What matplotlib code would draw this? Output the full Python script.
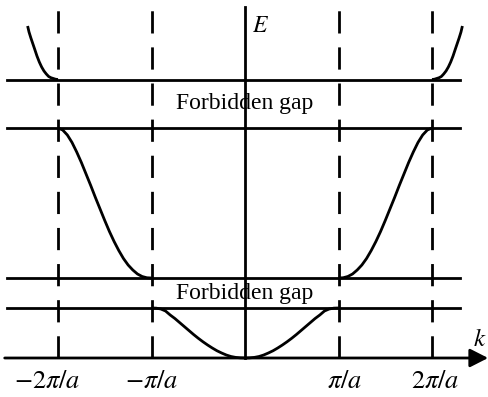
import numpy as np
import matplotlib
matplotlib.use("Agg")
import matplotlib.pyplot as plt
from matplotlib.patches import ArrowStyle

plt.rcParams["font.family"] = ["Liberation Serif", "DejaVu Serif"]
plt.rcParams["mathtext.fontset"] = "stix"

# k in units of pi/a, E in arbitrary units
band1_k = [0.0, 0.05, 0.1, 0.15, 0.2, 0.25, 0.3, 0.35, 0.4, 0.45, 0.5,
           0.55, 0.6, 0.65, 0.7, 0.75, 0.8, 0.85, 0.9, 0.95, 1.0]
band1_E = [0.0, 0.003, 0.012, 0.03, 0.06, 0.1, 0.145, 0.2, 0.26, 0.325, 0.395,
           0.47, 0.55, 0.63, 0.71, 0.79, 0.86, 0.94, 0.98, 0.997, 1.0]

band2_k = [1.0, 1.05, 1.1, 1.15, 1.2, 1.25, 1.3, 1.35, 1.4, 1.45, 1.5,
           1.55, 1.6, 1.65, 1.7, 1.75, 1.8, 1.85, 1.9, 1.95, 2.0]
band2_E = [1.6, 1.605, 1.63, 1.68, 1.76, 1.86, 1.99, 2.15, 2.33, 2.53, 2.75,
           2.98, 3.21, 3.45, 3.68, 3.91, 4.12, 4.31, 4.46, 4.56, 4.6]

band3_k = [2.0, 2.025, 2.05, 2.075, 2.1, 2.125, 2.15, 2.175, 2.2, 2.225,
           2.25, 2.27, 2.29, 2.31, 2.325]
band3_E = [5.57, 5.575, 5.59, 5.605, 5.63, 5.68, 5.74, 5.82, 5.92, 6.04,
           6.18, 6.29, 6.40, 6.52, 6.64]

edge_levels = [1.0, 1.6, 4.6, 5.57]     # band edges (horizontal lines)
gap_centers = [1.3, 5.085]              # where "Forbidden gap" is written
zone_k = [-2, -1, 1, 2]                 # dashed zone boundaries
zone_labels = [r"$-2\pi/a$", r"$-\pi/a$", r"$\pi/a$", r"$2\pi/a$"]

fig = plt.figure(figsize=(4.88, 3.97), dpi=100)
ax = fig.add_axes([0, 0, 1, 1])
ax.set_xlim(-245 / 93.5, 243 / 93.5)
ax.set_ylim(-39 / 50, 358 / 50)
ax.axis("off")

lw = 2.0
E_top = 7.02

# band curves, mirrored to negative k
for ks, Es in [(band1_k, band1_E), (band2_k, band2_E), (band3_k, band3_E)]:
    ks = np.array(ks)
    ax.plot(ks, Es, color="k", lw=lw, solid_capstyle="butt")
    ax.plot(-ks, Es, color="k", lw=lw, solid_capstyle="butt")

# band edges
for lev in edge_levels:
    ax.plot([-2.55, 2.30], [lev, lev], color="k", lw=lw)

# zone boundaries
for kz in zone_k:
    ax.plot([kz, kz], [0, E_top], color="k", lw=lw, dashes=(8, 5))

# E axis
ax.plot([0, 0], [0, E_top], color="k", lw=lw)
# k axis with arrow
ax.annotate("", xy=(2.6, 0), xytext=(-2.57, 0),
            arrowprops=dict(arrowstyle=ArrowStyle("-|>", head_length=0.55, head_width=0.28),
                            lw=lw, color="k", mutation_scale=20,
                            shrinkA=0, shrinkB=0))

for yc in gap_centers:
    ax.text(0, yc, "Forbidden gap", ha="center", va="center", fontsize=17)

nudge = {-2: -0.11, -1: 0.0, 1: 0.07, 2: 0.03}
for kz, lab in zip(zone_k, zone_labels):
    ax.text(kz + nudge[kz], -0.48, lab, ha="center", va="center", fontsize=19)

ax.text(0.17, 6.64, r"$E$", ha="center", va="center", fontsize=17)
ax.text(2.51, 0.36, r"$k$", ha="center", va="center", fontsize=18)

fig.savefig("out.png", dpi=100)
